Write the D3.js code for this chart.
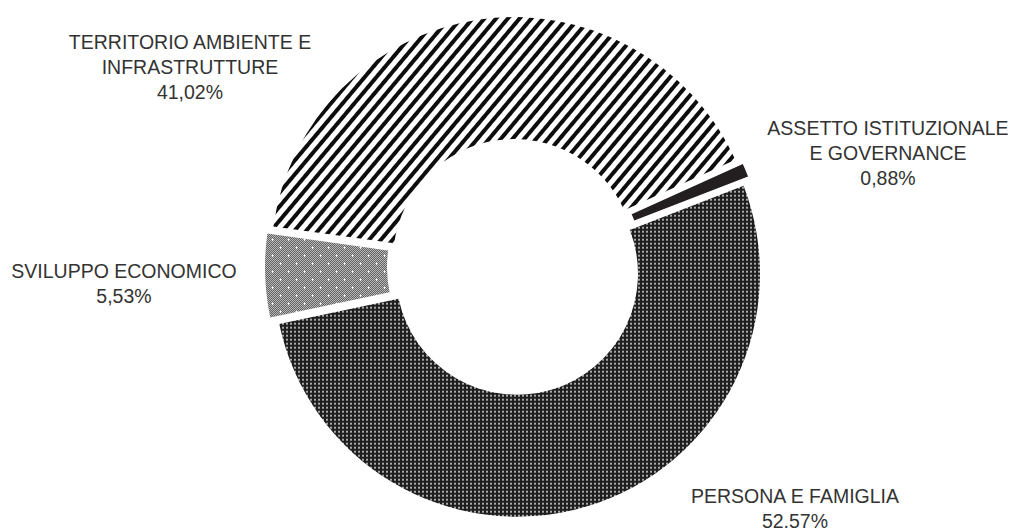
<!DOCTYPE html>
<html><head><meta charset="utf-8">
<script src="https://cdn.jsdelivr.net/npm/d3@7"></script>
<style>body{margin:0;background:#fff}svg{display:block}</style>
</head><body>
<svg id="c" width="1012" height="531"></svg>
<script>
const categories = ["PERSONA E FAMIGLIA", "SVILUPPO ECONOMICO", "TERRITORIO AMBIENTE E INFRASTRUTTURE", "ASSETTO ISTITUZIONALE E GOVERNANCE"];
const values = [52.57, 5.53, 41.02, 0.88];
const valueLabels = ["52.57%", "5,53%", "41,02%", "0,88%"];
const labelLines = [["PERSONA E FAMIGLIA"], ["SVILUPPO ECONOMICO"], ["TERRITORIO AMBIENTE E", "INFRASTRUTTURE"], ["ASSETTO ISTITUZIONALE", "E GOVERNANCE"]];
const labelPos = [[795, 503], [124, 278], [190, 49], [888, 135]];

const svg = d3.select("#c");
const cx = 515, cy = 267, R = 243, r = 121, explode = 7;
const defs = svg.append("defs");

// stripes
const pS = defs.append("pattern").attr("id", "stripes").attr("patternUnits", "userSpaceOnUse")
  .attr("width", 9).attr("height", 9).attr("patternTransform", "rotate(40)");
pS.append("rect").attr("width", 9).attr("height", 9).attr("fill", "#fff");
pS.append("rect").attr("x", 0).attr("width", 4).attr("height", 9).attr("fill", "#0d0d0d");

// dark dotted
const pD = defs.append("pattern").attr("id", "dots").attr("patternUnits", "userSpaceOnUse")
  .attr("width", 4).attr("height", 4);
pD.append("rect").attr("width", 4).attr("height", 4).attr("fill", "#1e1e1e");
pD.append("rect").attr("x", 1).attr("y", 1).attr("width", 2).attr("height", 2).attr("fill", "#a8a8a8");

// checker with crosses
const pC = defs.append("pattern").attr("id", "check").attr("patternUnits", "userSpaceOnUse")
  .attr("width", 16).attr("height", 16);
pC.append("rect").attr("width", 16).attr("height", 16).attr("fill", "#e0e0e0");
for (let i = 0; i < 16; i++) for (let j = 0; j < 16; j++) {
  if ((i + j) % 2 === 0) pC.append("rect").attr("x", i).attr("y", j).attr("width", 1).attr("height", 1).attr("fill", "#3a3a3a");
}
[[4, 4], [12, 12]].forEach(([x, y]) => {
  pC.append("rect").attr("x", x - 1).attr("y", y).attr("width", 3).attr("height", 1).attr("fill", "#fff");
  pC.append("rect").attr("x", x).attr("y", y - 1).attr("width", 1).attr("height", 3).attr("fill", "#fff");
});

const fills = ["url(#dots)", "url(#check)", "url(#stripes)", "#231f20"];

const pie = d3.pie().sort(null).value(d => d)
  .startAngle(68.8 * Math.PI / 180).endAngle(68.8 * Math.PI / 180 + 2 * Math.PI);
const arc = d3.arc().innerRadius(r).outerRadius(R);
const arcs = pie(values);

const g = svg.append("g").attr("transform", `translate(${cx},${cy})`);
g.selectAll("path").data(arcs).join("path")
  .attr("d", arc)
  .attr("fill", (d, i) => fills[i])
  .attr("transform", d => {
    const m = (d.startAngle + d.endAngle) / 2;
    return `translate(${explode * Math.sin(m)},${-explode * Math.cos(m)})`;
  });

const lh = 25;
labelLines.forEach((lines, i) => {
  const t = svg.append("text").attr("text-anchor", "middle")
    .attr("font-family", "Liberation Sans, Arial, sans-serif").attr("font-size", 19.5).attr("fill", "#333");
  const all = lines.concat([valueLabels[i]]);
  all.forEach((s, k) => {
    t.append("tspan").attr("x", labelPos[i][0]).attr("y", labelPos[i][1] + k * lh).text(s);
  });
});
</script>
</body></html>
